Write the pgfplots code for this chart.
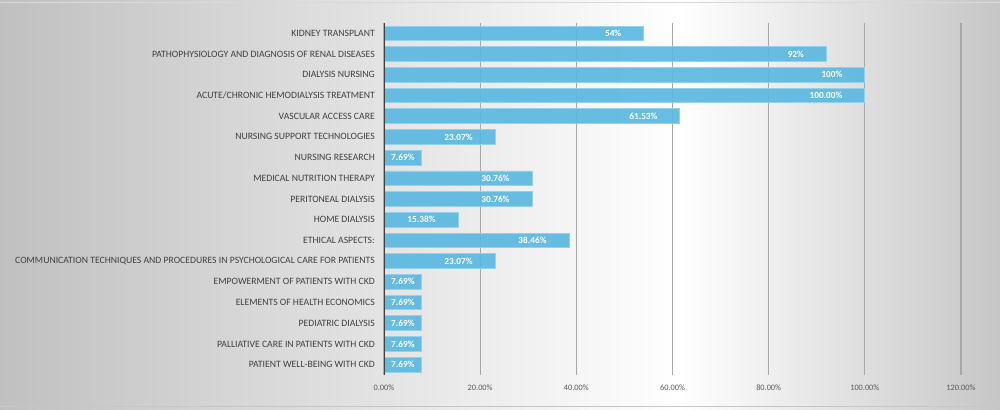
\documentclass[border=0pt]{standalone}
\usepackage{fontspec}
\setmainfont{Carlito}
\usepackage{pgfplots}
\usepackage{pgfplotstable}
\pgfplotsset{compat=1.18}
\definecolor{barblue}{HTML}{5BB8E0}
\definecolor{baredge}{HTML}{93D1EE}
\definecolor{labgray}{HTML}{404040}
\definecolor{tickgray}{HTML}{595959}
\definecolor{gridgray}{HTML}{A8A8A8}
\definecolor{bgdark}{HTML}{C0C0C0}
\definecolor{bgdarkr}{HTML}{C6C6C6}

\pgfplotstableread{
y x label
0 54 54
1 92 92
2 100 100
3 100 100.00
4 61.53 61.53
5 23.07 23.07
7 30.76 30.76
8 30.76 30.76
9 15.38 15.38
10 38.46 38.46
11 23.07 23.07
}\bigbars
\pgfplotstableread{
y x label
6 7.69 7.69
12 7.69 7.69
13 7.69 7.69
14 7.69 7.69
15 7.69 7.69
16 7.69 7.69
}\smallbars

\begin{document}
\begin{tikzpicture}[x=1bp,y=1bp]
\useasboundingbox (0,0) rectangle (1000,409);
\begin{scope}
\clip (0,0) rectangle (1000,409);
\shade[left color=bgdark, right color=white] (0,0) rectangle (680,409);
\shade[left color=white, right color=bgdarkr] (679.5,0) rectangle (1000,409);
\end{scope}
\draw[gray!45, line width=1bp] (0.5,3) -- (999.5,3);
\draw[gray!30, line width=1bp] (0.5,406) -- (999.5,406);
\begin{axis}[
  at={(384bp,34bp)}, anchor=south west,
  scale only axis, width=577bp, height=352bp,
  xmin=0, xmax=120, ymin=-0.5, ymax=16.5,
  y dir=reverse,
  xbar, bar width=14.7bp, bar shift=0pt,
  axis line style={draw=none},
  major tick length=0pt,
  xmajorgrids, grid style={gridgray, line width=1.3bp},
  xtick={0,20,40,60,80,100,120},
  xticklabels={0.00\%,20.00\%,40.00\%,60.00\%,80.00\%,100.00\%,120.00\%},
  xticklabel style={font=\fontsize{8.3bp}{9.5bp}\selectfont, text=tickgray, inner sep=0pt, yshift=-10bp},
  ytick={0,...,16},
  yticklabels={KIDNEY TRANSPLANT,PATHOPHYSIOLOGY AND DIAGNOSIS OF RENAL DISEASES,DIALYSIS NURSING,ACUTE/CHRONIC HEMODIALYSIS TREATMENT,VASCULAR ACCESS CARE,NURSING SUPPORT TECHNOLOGIES,NURSING RESEARCH,MEDICAL NUTRITION THERAPY,PERITONEAL DIALYSIS,HOME DIALYSIS,ETHICAL ASPECTS:,COMMUNICATION TECHNIQUES AND PROCEDURES IN PSYCHOLOGICAL CARE FOR PATIENTS,EMPOWERMENT OF PATIENTS WITH CKD,ELEMENTS OF HEALTH ECONOMICS,PEDIATRIC DIALYSIS,PALLIATIVE CARE IN PATIENTS WITH CKD,PATIENT WELL-BEING WITH CKD},
  yticklabel style={font=\fontsize{9.7bp}{11bp}\selectfont, text=labgray, inner sep=0pt, xshift=-9bp},
  /pgf/number format/assume math mode=true,
  point meta=explicit symbolic,
  nodes near coords={\pgfplotspointmeta\%},
  nodes near coords align={anchor=east},
  every node near coord/.append style={font=\bfseries\fontsize{9.3bp}{10bp}\selectfont, text=white, inner sep=0pt},
]
\addplot[fill=barblue, fill opacity=0.92, draw=baredge, line width=0.8bp,
  every node near coord/.append style={xshift=-22bp, text opacity=1}]
  table[x=x, y=y, meta=label] {\bigbars};
\addplot[fill=barblue, fill opacity=0.92, draw=baredge, line width=0.8bp,
  every node near coord/.append style={xshift=-6bp, text opacity=1}]
  table[x=x, y=y, meta=label] {\smallbars};
\draw[labgray, line width=2.2bp] (axis cs:0,-0.5) -- (axis cs:0,16.5);
\end{axis}
\end{tikzpicture}
\end{document}
